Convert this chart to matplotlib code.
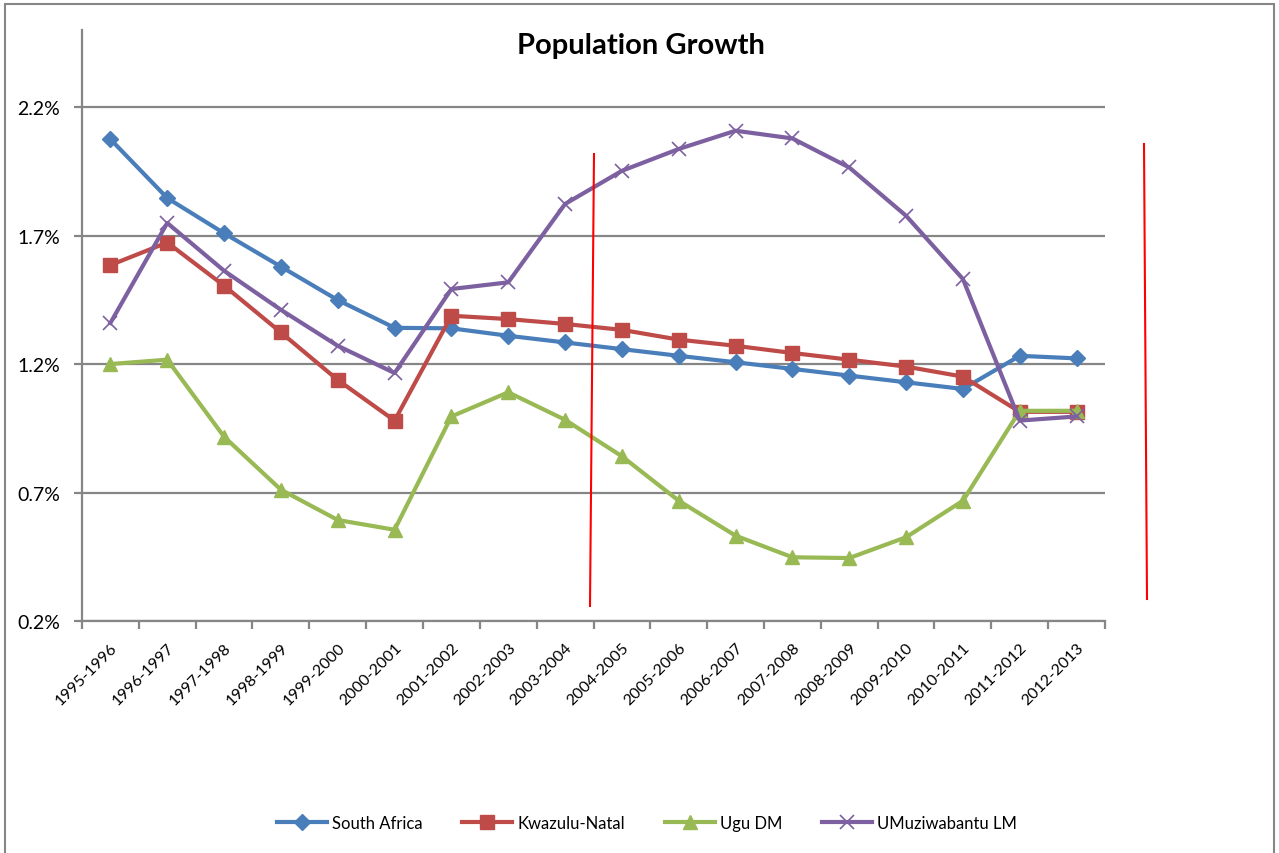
import numpy as np
import matplotlib
matplotlib.use("Agg")
import matplotlib.pyplot as plt
from matplotlib.lines import Line2D
from matplotlib.patches import Rectangle

plt.rcParams["font.family"] = ["Lato", "DejaVu Sans"]

periods = ["1995-1996", "1996-1997", "1997-1998", "1998-1999", "1999-2000",
           "2000-2001", "2001-2002", "2002-2003", "2003-2004", "2004-2005",
           "2005-2006", "2006-2007", "2007-2008", "2008-2009", "2009-2010",
           "2010-2011", "2011-2012", "2012-2013"]

south_africa = [2.075, 1.846, 1.709, 1.579, 1.449, 1.341, 1.339, 1.310, 1.284,
                1.258, 1.232, 1.207, 1.181, 1.155, 1.129, 1.103, 1.232, 1.222]
kwazulu_natal = [1.585, 1.673, 1.505, 1.323, 1.138, 0.980, 1.388, 1.375, 1.356,
                 1.333, 1.295, 1.271, 1.243, 1.217, 1.190, 1.151, 1.014, 1.014]
ugu_dm = [1.200, 1.217, 0.917, 0.711, 0.593, 0.555, 0.996, 1.090, 0.983,
          0.841, 0.668, 0.532, 0.448, 0.445, 0.526, 0.668, 1.018, 1.018]
umuziwabantu = [1.360, 1.749, 1.563, 1.411, 1.271, 1.165, 1.492, 1.518, 1.823,
                1.952, 2.037, 2.108, 2.078, 1.965, 1.777, 1.531, 0.980, 0.996]

y_ticks = [0.2, 0.7, 1.2, 1.7, 2.2]

W, H = 1279, 854
fig = plt.figure(figsize=(W / 100, H / 100), dpi=100)
ax = fig.add_axes([82 / W, 1 - 622 / H, 1023 / W, 591 / H])

x = np.arange(len(periods))
grey = "#868686"

ax.plot(x, south_africa, color="#4A7EBB", lw=3, marker="D", ms=8,
        label="South Africa", zorder=3)
ax.plot(x, kwazulu_natal, color="#BE4B48", lw=3, marker="s", ms=9.5,
        label="Kwazulu-Natal", zorder=3)
ax.plot(x, ugu_dm, color="#98B954", lw=3, marker="^", ms=10,
        label="Ugu DM", zorder=3)
ax.plot(x, umuziwabantu, color="#7D60A0", lw=3, marker="x", ms=10, mew=1.2,
        label="UMuziwabantu LM", zorder=4)

ax.set_xlim(-0.5, len(periods) - 0.5)
ax.set_ylim(0.2, 2.5)
ax.set_yticks(y_ticks)
ax.set_yticklabels([f"{v:.1f}%" for v in y_ticks], fontsize=14)
ax.yaxis.grid(True, color=grey, lw=1.6)
ax.set_axisbelow(True)

# category labels at the centres, tick marks between categories
ax.set_xticks(x)
ax.set_xticklabels(periods, rotation=45, ha="right", va="top",
                   rotation_mode="anchor", fontsize=11.5)
ax.set_xticks(np.arange(len(periods) + 1) - 0.5, minor=True)
ax.tick_params(axis="x", which="major", length=0, pad=14)
ax.tick_params(axis="x", which="minor", length=6, width=1.6, color=grey)
ax.tick_params(axis="y", length=6, width=1.6, color=grey, pad=10)

for side in ("top", "right"):
    ax.spines[side].set_visible(False)
for side in ("left", "bottom"):
    ax.spines[side].set_color(grey)
    ax.spines[side].set_linewidth(1.6)

fig.text(641 / W, 1 - 46 / H, "Population Growth", ha="center", va="center",
         fontsize=21, fontweight="bold")

fig.legend(loc="center", bbox_to_anchor=(647 / W, 1 - 824 / H), ncol=4,
           frameon=False, fontsize=12, handlelength=3.0, columnspacing=2.4,
           handletextpad=0.3)

# outer chart frame
fig.add_artist(Rectangle((5 / W, -0.05), 1269 / W, 1.05 - 5 / H,
                         transform=fig.transFigure, fill=False,
                         edgecolor=grey, lw=1.5))

# hand-drawn red markers
fig.add_artist(Line2D([594 / W, 590 / W], [1 - 155 / H, 1 - 607 / H],
                      transform=fig.transFigure, color="red", lw=1.5))
fig.add_artist(Line2D([1144 / W, 1147 / W], [1 - 145 / H, 1 - 600 / H],
                      transform=fig.transFigure, color="red", lw=1.5))

fig.savefig("out.png", dpi=100)
